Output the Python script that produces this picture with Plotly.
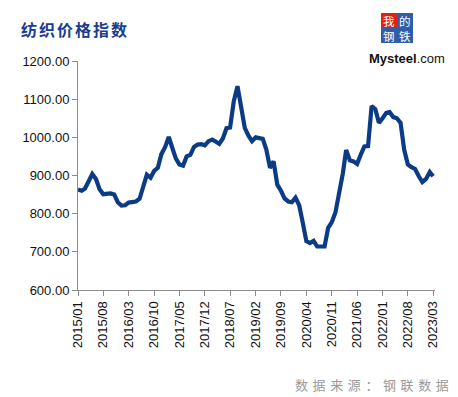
import pandas as pd
import plotly.graph_objects as go

start_month = "2015-01-01"
values = [
    863, 860, 866, 885, 904, 891, 864, 851, 852, 853, 850, 830,
    821, 822, 829, 831, 832, 839, 870, 902, 894, 912, 920, 956,
    974, 1001, 974, 945, 929, 926, 950, 954, 975, 981, 982, 979,
    990, 994, 989, 983, 997, 1024, 1026, 1095, 1134, 1081, 1025, 1005,
    990, 1000, 997, 996, 968, 920, 937, 876, 860, 840, 832, 830,
    842, 822, 778, 728, 723, 729, 714, 713, 714, 763, 778, 803,
    850, 905, 967, 940, 937, 930, 954, 976, 977, 1082, 1074, 1038,
    1050, 1064, 1066, 1053, 1050, 1038, 968, 929, 922, 917, 898, 883,
    891, 909, 898,
]
dates = pd.date_range(start_month, periods=len(values), freq="MS")
tick_dates = list(dates[::7])
tick_labels = [d.strftime("%Y/%m") for d in tick_dates]
y_ticks = [600, 700, 800, 900, 1000, 1100, 1200]

title_text = "纺织价格指数"
source_text = "数据来源：钢联数据"
logo_rows = ["我的", "钢铁"]

# page body has an 8px default margin; the figure is sized to fit the window
OX, OY = 8, 8
W, H = 458 - OX, 397 - OY
L, R, T, B = 78 - OX, 23, 61 - OY, 107
pw, ph = W - L - R, H - T - B


def px(x):
    return (x - OX - L) / pw


def py(y):
    return (H - B - (y - OY)) / ph


fig = go.Figure()
fig.add_trace(go.Scatter(
    x=dates, y=values, mode="lines",
    line=dict(color="#0B3B87", width=4.2),
    hoverinfo="x+y",
))

shapes = []
annotations = []

# logo boxes
boxes = [
    (381, 13, 397, 28, "#E0201B"),
    (397, 13, 413, 28, "#2F5EA8"),
    (381, 28, 397, 43, "#2F5EA8"),
    (397, 28, 413, 43, "#2F5EA8"),
]
for x0, y0, x1, y1, c in boxes:
    shapes.append(dict(type="rect", xref="paper", yref="paper",
                       x0=px(x0), x1=px(x1), y0=py(y1), y1=py(y0),
                       fillcolor=c, line=dict(width=0), layer="above"))
annotations.append(dict(
    text='<span style="letter-spacing:4.5px">' + "<br>".join(logo_rows) + "</span>",
    xref="paper", yref="paper", x=px(399.2), y=py(28), xanchor="center", yanchor="middle",
    showarrow=False, borderpad=0, align="center",
    font=dict(family="Noto Sans CJK SC", size=11.5, color="white")))
annotations.append(dict(text="<b>Mysteel</b>.com", xref="paper", yref="paper",
                        x=px(407), y=py(58), xanchor="center", yanchor="middle",
                        showarrow=False,
                        font=dict(family="Liberation Sans", size=13, color="#111111")))

annotations.append(dict(
    text='<span style="letter-spacing:2px">' + title_text + "</span>",
    xref="paper", yref="paper", x=px(19), y=py(29), xanchor="left", yanchor="middle",
    showarrow=False,
    font=dict(family="Noto Sans CJK SC", size=16, color="#1A3C8C", weight="bold")))

annotations.append(dict(
    text='<span style="letter-spacing:4.6px">' + source_text + "</span>",
    xref="paper", yref="paper", x=px(293), y=py(384), xanchor="left", yanchor="middle",
    showarrow=False,
    font=dict(family="Noto Sans CJK SC", size=13, color="#9A9A9A")))

fig.update_layout(
    width=W, height=H,
    margin=dict(l=L, r=R, t=T, b=B, pad=0),
    paper_bgcolor="white", plot_bgcolor="white",
    showlegend=False,
    shapes=shapes, annotations=annotations,
    xaxis=dict(
        range=[dates[0], pd.Timestamp("2023-03-17")],
        tickvals=tick_dates, ticktext=tick_labels, tickangle=-90,
        showgrid=False, zeroline=False,
        showline=True, linecolor="#8C8C8C", linewidth=1,
        ticks="outside", ticklen=5, tickcolor="#8C8C8C",
        tickfont=dict(family="Liberation Sans", size=13, color="#111111"),
    ),
    yaxis=dict(
        range=[600, 1200], tickvals=y_ticks, tickformat=".2f",
        showgrid=False, zeroline=False,
        showline=True, linecolor="#8C8C8C", linewidth=1,
        ticks="outside", ticklen=5, tickcolor="#8C8C8C",
        tickfont=dict(family="Liberation Sans", size=13, color="#111111"),
    ),
)

fig.write_html("out.html")
